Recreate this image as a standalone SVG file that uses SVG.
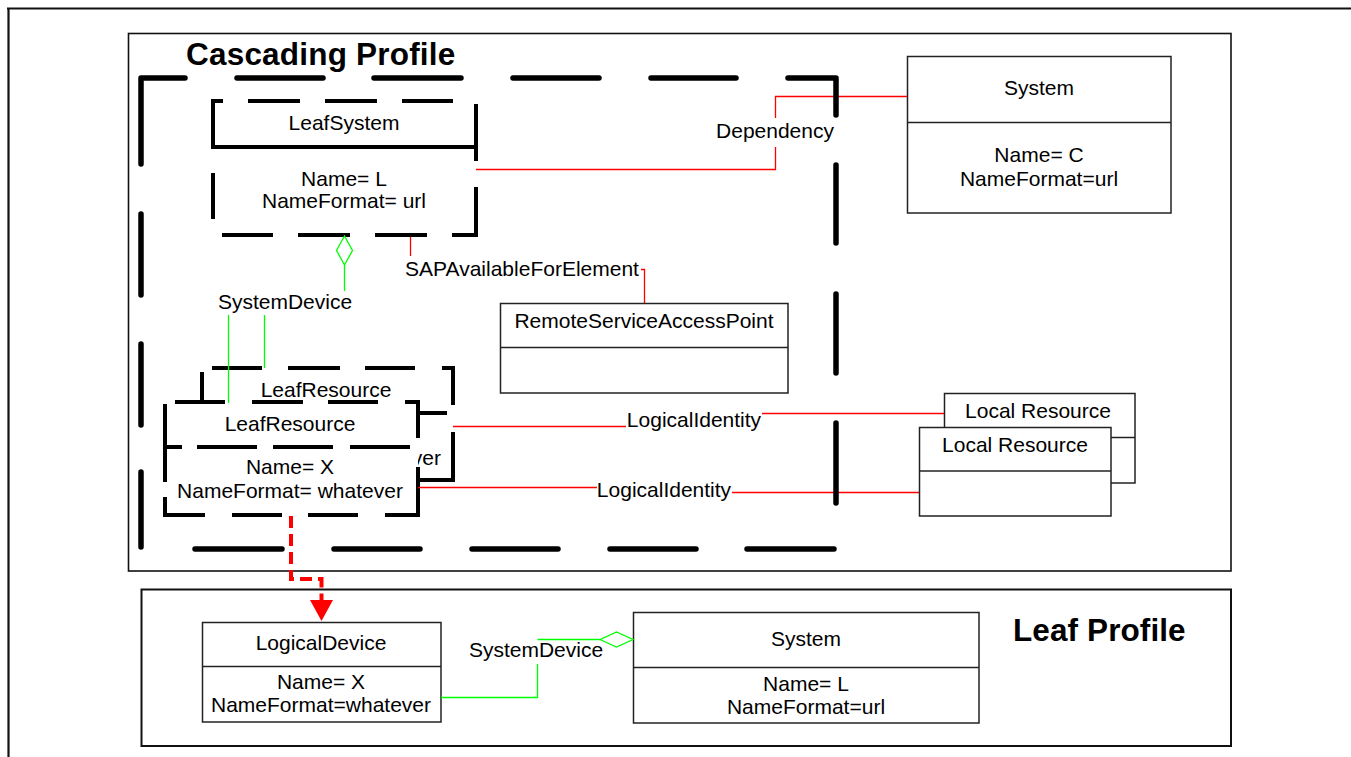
<svg xmlns="http://www.w3.org/2000/svg" width="1351" height="757" viewBox="0 0 1351 757">
<defs>
<style>
.t{font-family:"Liberation Sans",Arial,sans-serif;font-size:21px;fill:#000;text-anchor:middle}
.title{font-family:"Liberation Sans",Arial,sans-serif;font-weight:bold;font-size:31.5px;fill:#000}
.box{fill:#fff;stroke:#222;stroke-width:1.5}
.wb{fill:#fff;stroke:none}
.dash{fill:none;stroke:#000;stroke-width:4;stroke-linejoin:miter}
.big{fill:none;stroke:#000;stroke-width:5.5;stroke-linecap:round;stroke-linejoin:round}
.red{stroke:#f00;stroke-width:1.3;fill:none}
.green{stroke:#0f0;stroke-width:1.3;fill:none}
.frame{fill:none;stroke:#111}
</style>
</defs>
<rect width="1351" height="757" fill="#fff"/>
<g id="frames">
<path class="frame" d="M7,8.5 H1351 M8.5,8 V757" stroke-width="2.2"/>
<rect class="frame" x="128.5" y="33.5" width="1102.5" height="537.5" stroke-width="1.6"/>
<rect class="frame" x="141.5" y="589.5" width="1089.5" height="156.5" stroke-width="2"/>
<text class="title" x="186" y="65" letter-spacing="0.2">Cascading Profile</text>
<text class="title" x="1013" y="641" letter-spacing="0.1">Leaf Profile</text>
</g>
<g id="system-c">
<rect class="box" x="907.5" y="56.5" width="263.5" height="156.5"/>
<line x1="907.5" y1="122.5" x2="1171" y2="122.5" stroke="#222" stroke-width="1.5"/>
<text class="t" x="1039" y="95">System</text>
<text class="t" x="1039" y="162">Name= C</text>
<text class="t" x="1039" y="186">NameFormat=url</text>
</g>
<g id="leafsystem">
<rect class="wb" x="213" y="101" width="263" height="134"/>
<path class="dash" d="M223,101 H213 V147 H476 M248,101 H300 M325,101 H377 M402,101 H453 M476,104 V161 M476,187 V235 H452 M427,235 H375 M350,235 H298 M273,235 H222 M213,173 V219"/>
<text class="t" x="344" y="130">LeafSystem</text>
<text class="t" x="344" y="186">Name= L</text>
<text class="t" x="344" y="208">NameFormat= url</text>
</g>
<g id="rsap">
<rect class="box" x="500.5" y="303.5" width="287.5" height="89.5"/>
<line x1="500.5" y1="347.5" x2="788" y2="347.5" stroke="#222" stroke-width="1.5"/>
<text class="t" x="644" y="328">RemoteServiceAccessPoint</text>
</g>
<g id="leafresource-back">
<rect class="wb" x="202" y="368" width="251" height="112"/>
<text class="t" x="326" y="397">LeafResource</text>
<text class="t" x="441" y="465" style="text-anchor:end">ver</text>
<path class="dash" d="M212,368 H262 M288,368 H340 M365,368 H415 M442,368 H453 V405 M453,432 V480 H418 M417,413 H447 M202,372 V402"/>
</g>
<g id="leafresource-front">
<rect class="wb" x="165" y="402" width="253" height="113"/>
<path class="dash" d="M175,402 H225 M252,402 H303 M328,402 H378 M405,402 H418 V438 M418,467 V515 H385 M358,515 H308 M282,515 H232 M205,515 H165 V497 M165,482 V404 M165,447 H182 M197,447 H257 M273,447 H333 M350,447 H410"/>
<text class="t" x="290" y="431">LeafResource</text>
<text class="t" x="290" y="474">Name= X</text>
<text class="t" x="290" y="498">NameFormat= whatever</text>
</g>
<g id="localresource-back">
<rect class="box" x="944.5" y="393.5" width="190.5" height="89.5"/>
<line x1="944.5" y1="437.5" x2="1135" y2="437.5" stroke="#222" stroke-width="1.5"/>
<text class="t" x="1038" y="418">Local Resource</text>
</g>
<g id="localresource-front">
<rect class="box" x="919.5" y="427.5" width="191.5" height="88.5"/>
<line x1="919.5" y1="471" x2="1111" y2="471" stroke="#222" stroke-width="1.5"/>
<text class="t" x="1015" y="452">Local Resource</text>
</g>
<g id="logicaldevice">
<rect class="box" x="202.5" y="622.5" width="238.5" height="99.5"/>
<line x1="202.5" y1="666.5" x2="441" y2="666.5" stroke="#222" stroke-width="1.5"/>
<text class="t" x="321" y="650">LogicalDevice</text>
<text class="t" x="321" y="689">Name= X</text>
<text class="t" x="321" y="712">NameFormat=whatever</text>
</g>
<g id="system-l">
<rect class="box" x="633.5" y="612.5" width="345.5" height="110.5"/>
<line x1="633.5" y1="667.5" x2="979" y2="667.5" stroke="#222" stroke-width="1.5"/>
<text class="t" x="806" y="646">System</text>
<text class="t" x="806" y="691">Name= L</text>
<text class="t" x="806" y="714">NameFormat=url</text>
</g>
<g id="connectors">
<path class="red" d="M476,169.5 H775.5 V147 M775.5,118 V96.5 H907"/>
<text class="t" x="775" y="138">Dependency</text>
<path class="red" d="M410.5,237 V256 M641,269.5 H644.5 V303"/>
<text class="t" x="522" y="276">SAPAvailableForElement</text>
<path class="red" d="M453,426.5 H626 M762,413.5 H944"/>
<text class="t" x="694" y="427">LogicalIdentity</text>
<path class="red" d="M418,487.5 H597 M732,492.5 H919"/>
<text class="t" x="664" y="497">LogicalIdentity</text>
<path class="green" d="M344.5,236 L352.5,250.5 L344.5,265 L336.5,250.5 Z M344.5,265 V291"/>
<text class="t" x="285" y="309">SystemDevice</text>
<path class="green" d="M228.5,315 V403 M264.5,315 V368"/>
<path class="green" d="M441,697.5 H537.5 V664 M537.5,639.5 H600 L616.5,632 L633,639.5 L616.5,647 L600,639.5"/>
<text class="t" x="536" y="657">SystemDevice</text>
<path d="M291,516 V579 H321.5 V600" fill="none" stroke="#f00" stroke-width="4" stroke-dasharray="12,6"/>
<polygon points="310,600 333,600 321.5,621" fill="#f00"/>
</g>
<g id="cascading-boundary">
<path class="big" d="M185,78 H141 V164 M237,78 H323 M374,78 H461 M513,78 H599 M651,78 H736 M788,78 H836 V115 M836,165 V243 M836,294 V373 M836,423 V503 M834,549 H747 M696,549 H610 M558,549 H472 M420,549 H334 M282,549 H195 M141,214 V295 M141,344 V425 M141,472 V547"/>
</g>
</svg>
